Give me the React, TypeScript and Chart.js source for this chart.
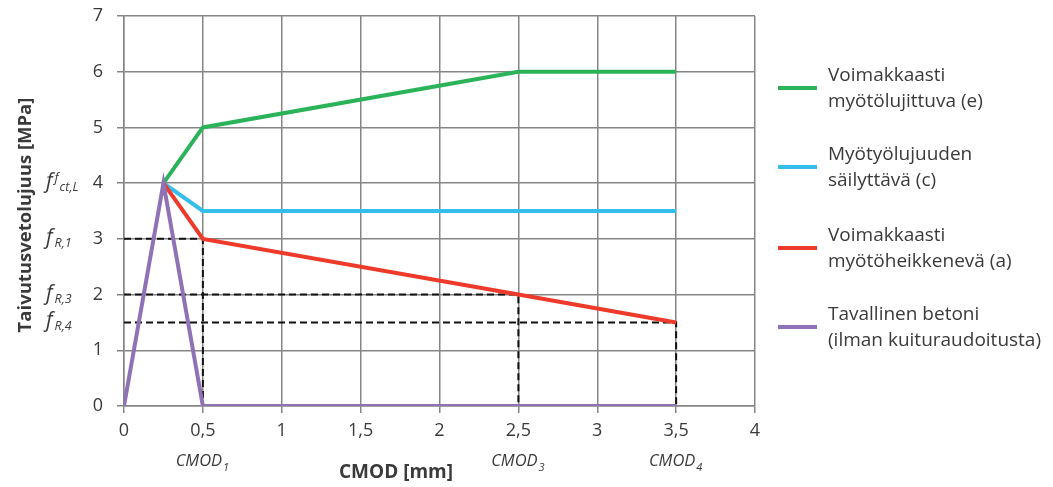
import React, { useEffect, useRef } from "react";
import { Chart, registerables } from "chart.js";

Chart.register(...registerables);

// ---- Data ----
const cmodE = [0.25, 0.5, 2.5, 3.5];
const stressE = [4, 5, 6, 6];
const cmodC = [0.25, 0.5, 3.5];
const stressC = [4, 3.5, 3.5];
const cmodA = [0.25, 0.5, 2.5, 3.5];
const stressA = [4, 3, 2, 1.5];
const cmodPlain = [0, 0.25, 0.5, 3.5];
const stressPlain = [0, 4, 0, 0];

const refCmod = [0.5, 2.5, 3.5];
const refStress = [3, 2, 1.5];

const legendLabels = [
  ["Voimakkaasti", "myötölujittuva (e)"],
  ["Myötyölujuuden", "säilyttävä (c)"],
  ["Voimakkaasti", "myötöheikkenevä (a)"],
  ["Tavallinen betoni", "(ilman kuituraudoitusta)"],
];
const seriesColors = ["#2bb35a", "#35bdec", "#ee3a2a", "#8f72b5"];

const yMarkValues = [4, 3, 2, 1.5];
const yMarkSup = ["f", "", "", ""];
const yMarkSub = ["ct,L", "R,1", "R,3", "R,4"];

const cmodMarkValues = [0.5, 2.5, 3.5];
const cmodMarkSub = ["1", "3", "4"];

const xTitle = "CMOD [mm]";
const yTitle = "Taivutusvetolujuus [MPa]";

const FONT = "'Open Sans', 'Noto Sans', sans-serif";
const TEXT = "#3a3a3a";
const GRID = "#858585";

const pts = (xs: number[], ys: number[]) => xs.map((x, i) => ({ x, y: ys[i] }));

const overlayPlugin = {
  id: "overlay",
  afterDraw(chart: any) {
    const ctx = chart.ctx as CanvasRenderingContext2D;
    const xs = chart.scales.x;
    const ys = chart.scales.y;
    ctx.save();
    ctx.fillStyle = TEXT;

    // y title
    ctx.save();
    ctx.translate(26, 215);
    ctx.rotate(-Math.PI / 2);
    ctx.font = `bold 18.5px ${FONT}`;
    ctx.textAlign = "center";
    ctx.textBaseline = "middle";
    ctx.fillText(yTitle, 0, 0);
    ctx.restore();

    // x title
    ctx.font = `bold 19px ${FONT}`;
    ctx.textAlign = "center";
    ctx.textBaseline = "middle";
    ctx.fillText(xTitle, 396, 473);

    // y value marks (f labels)
    yMarkValues.forEach((v, i) => {
      const y = ys.getPixelForValue(v);
      let x = 46;
      ctx.textAlign = "left";
      ctx.textBaseline = "alphabetic";
      ctx.font = `italic 21px ${FONT}`;
      ctx.fillText("f", x, y + 5);
      x += ctx.measureText("f").width + 2;
      if (yMarkSup[i]) {
        ctx.font = `italic 13px ${FONT}`;
        ctx.fillText(yMarkSup[i], x, y - 1);
        x += ctx.measureText(yMarkSup[i]).width + 1;
      }
      ctx.font = `italic 12.5px ${FONT}`;
      ctx.fillText(yMarkSub[i], x, y + 8);
    });

    // CMOD marks
    cmodMarkValues.forEach((v, i) => {
      const xc = xs.getPixelForValue(v);
      ctx.font = `italic 16.5px ${FONT}`;
      const w1 = ctx.measureText("CMOD").width;
      ctx.font = `italic 11px ${FONT}`;
      const w2 = ctx.measureText(cmodMarkSub[i]).width;
      const x0 = xc - (w1 + w2) / 2 - 1;
      ctx.textAlign = "left";
      ctx.textBaseline = "alphabetic";
      ctx.font = `italic 16.5px ${FONT}`;
      ctx.fillText("CMOD", x0, 466);
      ctx.font = `italic 11px ${FONT}`;
      ctx.fillText(cmodMarkSub[i], x0 + w1 + 1, 471);
    });

    // legend
    const legendY = [88, 167, 248, 327];
    legendLabels.forEach((lines, i) => {
      const y = legendY[i];
      ctx.strokeStyle = seriesColors[i];
      ctx.lineWidth = 4;
      ctx.beginPath();
      ctx.moveTo(778, y);
      ctx.lineTo(817, y);
      ctx.stroke();
      ctx.font = `19px ${FONT}`;
      ctx.textAlign = "left";
      ctx.textBaseline = "middle";
      ctx.fillStyle = TEXT;
      ctx.fillText(lines[0], 828, y - 12);
      ctx.fillText(lines[1], 828, y + 14);
    });

    ctx.restore();
  },
};

export default function App() {
  const ref = useRef<HTMLCanvasElement>(null);
  useEffect(() => {
    if (!ref.current) return;
    const base = {
      showLine: true,
      pointRadius: 0,
      borderWidth: 4,
      fill: false,
      tension: 0,
    };
    const dashed = refCmod.map((c, i) => ({
      ...base,
      data: pts([0, c, c], [refStress[i], refStress[i], 0]),
      borderColor: "#111",
      borderWidth: 2,
      borderDash: [7, 4],
      order: 10,
    }));
    const chart = new Chart(ref.current, {
      type: "scatter",
      data: {
        datasets: [
          { ...base, data: pts(cmodPlain, stressPlain), borderColor: seriesColors[3], order: 1 },
          { ...base, data: pts(cmodA, stressA), borderColor: seriesColors[2], order: 2 },
          { ...base, data: pts(cmodC, stressC), borderColor: seriesColors[1], order: 3 },
          { ...base, data: pts(cmodE, stressE), borderColor: seriesColors[0], order: 4 },
          ...dashed,
        ] as any,
      },
      options: {
        animation: false,
        responsive: false,
        layout: { padding: { top: 16, right: 298, left: 0, bottom: 0 } },
        plugins: { legend: { display: false }, tooltip: { enabled: false } },
        scales: {
          x: {
            type: "linear",
            min: 0,
            max: 4,
            ticks: {
              stepSize: 0.5,
              callback: (v: any) => String(v).replace(".", ","),
              font: { size: 18, family: FONT },
              color: TEXT,
              padding: 7,
              maxRotation: 0,
            },
            grid: { color: GRID, lineWidth: 1.5, tickLength: 7 },
            border: { color: GRID, width: 1.5 },
            afterFit: (s: any) => {
              s.height = 81;
              s.paddingLeft = 0;
              s.paddingRight = 0;
            },
          },
          y: {
            type: "linear",
            min: 0,
            max: 7,
            ticks: {
              stepSize: 1,
              font: { size: 18, family: FONT },
              color: TEXT,
              padding: 14,
            },
            grid: { color: GRID, lineWidth: 1.5, tickLength: 7 },
            border: { color: GRID, width: 1.5 },
            afterFit: (s: any) => {
              s.width = 124;
              s.paddingTop = 0;
              s.paddingBottom = 0;
            },
          },
        },
      } as any,
      plugins: [overlayPlugin],
    });
    return () => chart.destroy();
  }, []);
  return (
    <div style={{ position: "absolute", left: 0, top: 0, width: 1053, height: 487, background: "#fff" }}>
      <canvas ref={ref} width={1053} height={487} />
    </div>
  );
}
